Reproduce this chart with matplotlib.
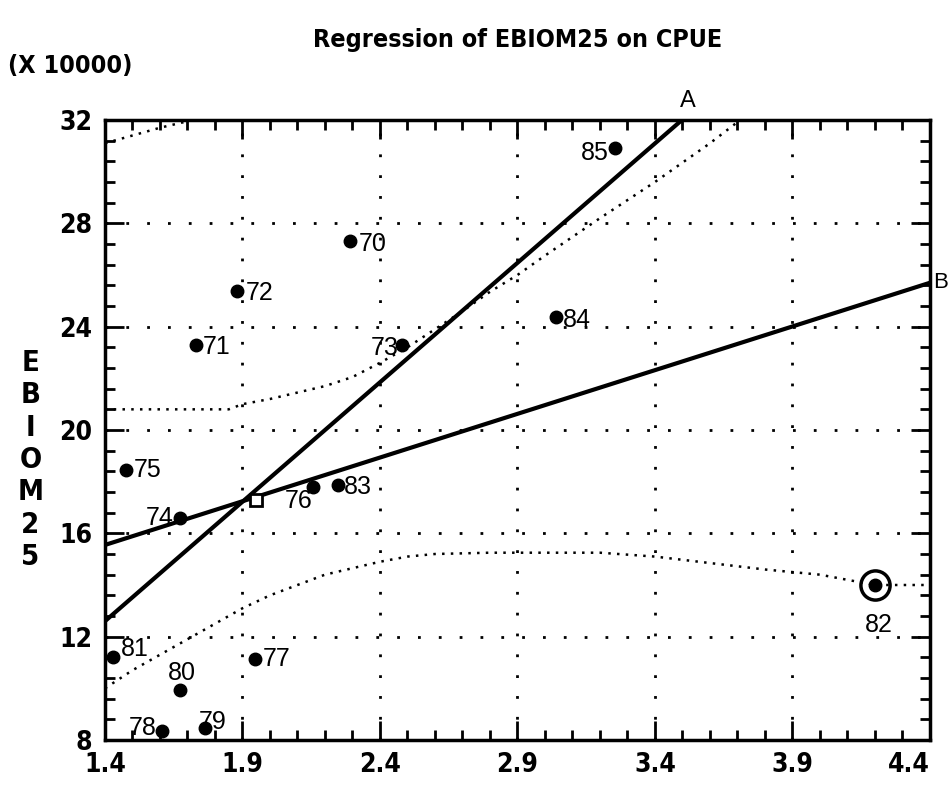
import matplotlib
matplotlib.use('Agg')
import matplotlib.pyplot as plt

# Point data (CPUE, EBIOM25 in units of 10000), labelled by year
year_labels = ['70', '71', '72', '73', '74', '75', '76', '77',
               '78', '79', '80', '81', '82', '83', '84', '85']
cpue = [2.29, 1.73, 1.88, 2.48, 1.673, 1.476, 2.156, 1.945,
        1.607, 1.764, 1.673, 1.43, 4.2, 2.247, 3.04, 3.255]
ebiom = [27.3, 23.3, 25.4, 23.3, 16.6, 18.45, 17.8, 11.15,
         8.35, 8.46, 9.95, 11.2, 14.0, 17.87, 24.37, 30.9]

# Regression lines (end points)
line_a_x = [1.4, 3.498]
line_a_y = [12.6, 32.0]
line_b_x = [1.4, 4.4]
line_b_y = [15.55, 25.7]
mean_x = [1.95]
mean_y = [17.3]

# Dotted confidence curves
upper_x = [1.4, 1.85, 1.9, 2.0, 2.1, 2.2, 2.3, 2.4, 2.5, 2.6, 2.7, 2.8,
           2.9, 3.0, 3.2, 3.4, 3.6, 3.71]
upper_y = [20.8, 20.8, 21.0, 21.2, 21.45, 21.7, 22.05, 22.6, 23.2, 23.9,
           24.6, 25.35, 26.0, 26.75, 28.2, 29.6, 31.1, 32.0]
top_x = [1.4, 1.5, 1.6, 1.72]
top_y = [31.1, 31.4, 31.7, 32.0]
lower_x = [1.4, 1.5, 1.6, 1.7, 1.8, 1.9, 2.0, 2.1, 2.2, 2.3, 2.4, 2.5,
           2.6, 2.8, 3.0, 3.2, 3.4, 3.6, 3.8, 4.0, 4.2, 4.4]
lower_y = [10.0, 10.7, 11.3, 11.9, 12.5, 13.1, 13.6, 14.0, 14.4, 14.65,
           14.9, 15.1, 15.2, 15.25, 15.25, 15.25, 15.1, 14.85, 14.6, 14.4,
           14.0, 14.0]

xticks = [1.4, 1.9, 2.4, 2.9, 3.4, 3.9, 4.4]
yticks = [8, 12, 16, 20, 24, 28, 32]
xminor = [1.5, 1.6, 1.7, 1.8, 2.0, 2.1, 2.2, 2.3, 2.5, 2.6, 2.7, 2.8,
          3.0, 3.1, 3.2, 3.3, 3.5, 3.6, 3.7, 3.8, 4.0, 4.1, 4.2, 4.3]
yminor = [8.8, 9.6, 10.4, 11.2, 12.8, 13.6, 14.4, 15.2, 16.8, 17.6, 18.4, 19.2,
          20.8, 21.6, 22.4, 23.2, 24.8, 25.6, 26.4, 27.2, 28.8, 29.6, 30.4, 31.2]

# label placement: (dx, dy) in pixels, ha
label_pos = {
    '70': (9, -3, 'left'), '71': (7, -2, 'left'), '72': (9, -2, 'left'),
    '73': (-3, -3, 'right'), '74': (-6, 0, 'right'), '75': (8, 0, 'left'),
    '76': (-14, -14, 'center'), '77': (8, 0, 'left'), '78': (-5, 3, 'right'),
    '79': (-6, 6, 'left'), '80': (2, 17, 'center'), '81': (8, 8, 'left'),
    '82': (4, -40, 'center'), '83': (6, -2, 'left'), '84': (7, -3, 'left'),
    '85': (-6, -5, 'right'),
}

bold_font = 'DejaVu Sans'
label_font = 'Liberation Sans'

fig = plt.figure(figsize=(9.5, 8), dpi=100)
ax = fig.add_axes([0.1105, 0.075, 0.8684, 0.775])

ax.set_xlim(1.4, 4.4)
ax.set_ylim(8, 32)

# grid
for xv in xticks[1:-1]:
    ax.axvline(xv, color='black', lw=2, ls=(0, (1, 6.5)), zorder=1)
for yv in yticks[1:-1]:
    ax.axhline(yv, color='black', lw=2, ls=(0, (1, 6.5)), zorder=1)

# bands
ax.plot(upper_x, upper_y, color='black', lw=1.8, ls=(0, (1, 2.5)))
ax.plot(top_x, top_y, color='black', lw=1.8, ls=(0, (1, 2.5)))
ax.plot(lower_x, lower_y, color='black', lw=1.8, ls=(0, (1, 2.5)))

# regression lines
ax.plot(line_a_x, line_a_y, color='black', lw=3, solid_capstyle='butt')
ax.plot(line_b_x, line_b_y, color='black', lw=3, solid_capstyle='butt')
ax.plot(mean_x, mean_y, marker='s', ms=8, mfc='white', mec='black', mew=2, ls='none')

# points
ax.plot(cpue, ebiom, 'o', color='black', ms=9, zorder=5, clip_on=False)
i82 = year_labels.index('82')
ax.plot(cpue[i82], ebiom[i82], 'o', ms=21, mfc='none', mec='black', mew=2.5, zorder=5)

for lab, xv, yv in zip(year_labels, cpue, ebiom):
    dx, dy, ha = label_pos[lab]
    ax.annotate(lab, (xv, yv), xytext=(dx, dy), textcoords='offset pixels',
                ha=ha, va='center', fontsize=18, family=label_font)

ax.text(3.52, 32.3, 'A', ha='center', va='bottom', fontsize=17, family=label_font)
ax.text(4.41, 25.7, 'B', ha='left', va='center', fontsize=16, family=label_font,
        clip_on=False)

# axes styling
for sp in ax.spines.values():
    sp.set_linewidth(2.5)
ax.set_xticks(xticks)
ax.set_yticks(yticks)
ax.set_xticks(xminor, minor=True)
ax.set_yticks(yminor, minor=True)
ax.set_xticklabels([f'{v:.1f}' for v in xticks])
ax.set_yticklabels([str(v) for v in yticks])
ax.tick_params(which='both', direction='in', top=True, right=True, width=2)
ax.tick_params(which='major', length=14, labelsize=19, pad=9)
ax.tick_params(which='minor', length=7)
for t in ax.get_xticklabels() + ax.get_yticklabels():
    t.set_family(bold_font)
    t.set_fontweight('bold')
    t.set_fontstretch('condensed')
# keep the last x label inside the figure
ax.get_xticklabels()[-1].set_horizontalalignment('right')
ax.get_xticklabels()[-1].set_x(4.4)

fig.text(0.545, 0.95, 'Regression of EBIOM25 on CPUE', ha='center', va='center',
         fontsize=18, fontweight='bold', fontstretch='condensed', family=bold_font)
fig.text(0.008, 0.918, '(X 10000)', ha='left', va='center',
         fontsize=18, fontweight='bold', fontstretch='condensed', family=bold_font)
fig.text(0.032, 0.425, 'E\nB\nI\nO\nM\n2\n5', ha='center', va='center',
         fontsize=21, fontweight='bold', fontstretch='condensed', family=bold_font,
         linespacing=1.2)

fig.savefig('out.png', dpi=100)
